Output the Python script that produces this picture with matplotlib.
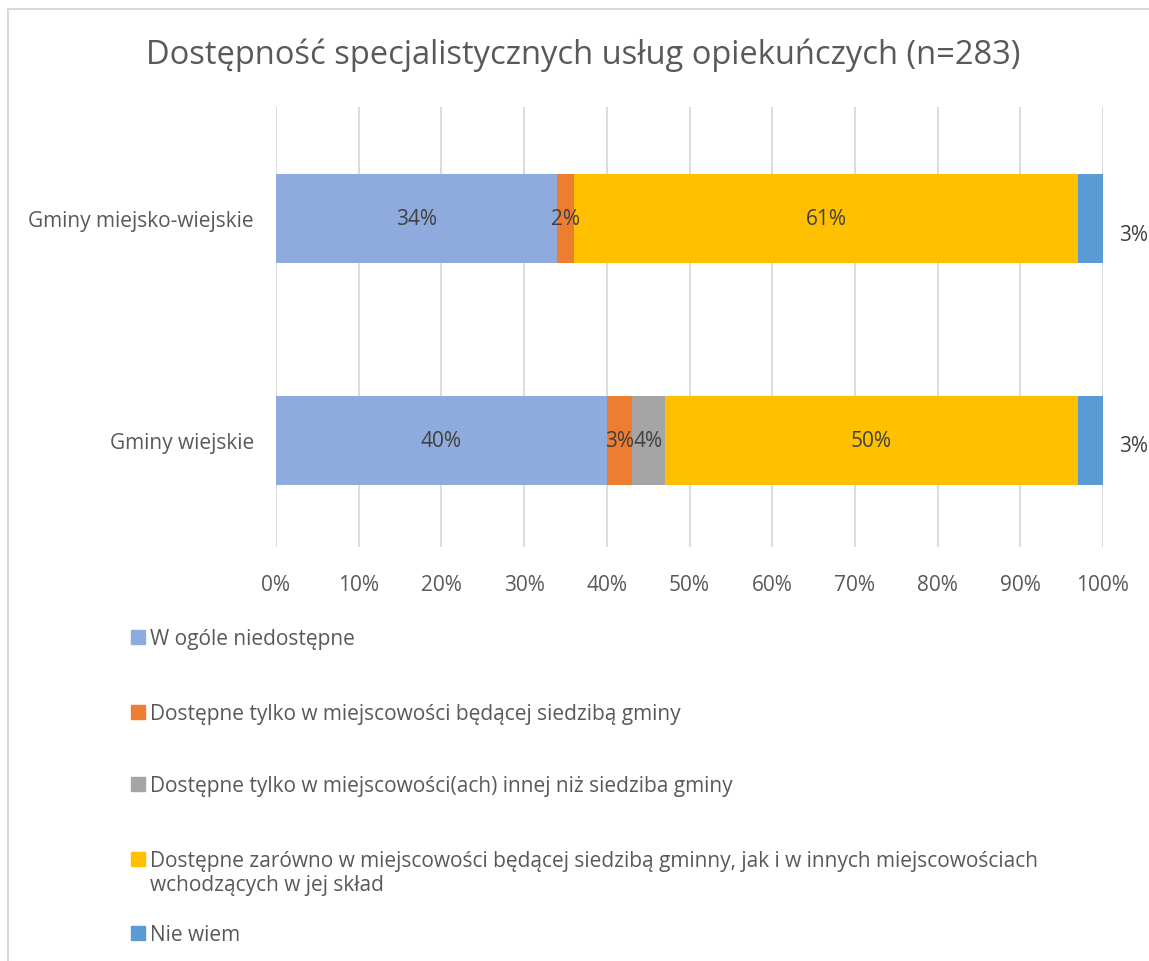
import matplotlib.pyplot as plt
from matplotlib.patches import Rectangle
from matplotlib.lines import Line2D
from matplotlib.ticker import FuncFormatter

plt.rcParams['font.family'] = ['Open Sans', 'DejaVu Sans']

categories = ['Gminy wiejskie', 'Gminy miejsko-wiejskie']
series_names = ['W ogóle niedostępne',
                'Dostępne tylko w miejscowości będącej siedzibą gminy',
                'Dostępne tylko w miejscowości(ach) innej niż siedziba gminy',
                'Dostępne zarówno w miejscowości będącej siedzibą gminny, jak i w innych miejscowościach\nwchodzących w jej skład',
                'Nie wiem']
niedostepne = [40, 34]
siedziba = [3, 2]
inne = [4, 0]
zarowno = [50, 61]
nie_wiem = [3, 3]
series = [niedostepne, siedziba, inne, zarowno, nie_wiem]
colors = ['#8FAADC', '#ED7D31', '#A5A5A5', '#FFC000', '#5B9BD5']

txt = '#595959'
fs = 15
W, H = 1149, 962
fig = plt.figure(figsize=(W / 100, H / 100), dpi=100)
ax = fig.add_axes([276 / W, 1 - 548 / H, 827 / W, 440 / H])

left = [0, 0]
for k, (vals, c) in enumerate(zip(series, colors)):
    ax.barh(range(len(categories)), vals, left=left, height=0.4,
            color=c, zorder=3)
    for i, v in enumerate(vals):
        if v == 0:
            continue
        if k == len(series) - 1:
            # "Nie wiem" labels sit outside, right of the bar
            ax.annotate(f'{v}%', xy=(left[i] + v, i), xytext=(11.5, [-4, -12][i]),
                        textcoords='offset points', ha='left', va='center',
                        fontsize=fs, color='#404040', annotation_clip=False)
        else:
            ax.text(left[i] + v / 2, i, f'{v}%', ha='center', va='center',
                    fontsize=fs, color='#404040', zorder=4)
    left = [l + v for l, v in zip(left, vals)]

ax.set_xlim(0, 100)
ax.set_ylim(-0.48, 1.5)
ax.set_xticks(range(0, 101, 10))
ax.xaxis.set_major_formatter(FuncFormatter(lambda x, p: f'{x:.0f}%'))
ax.set_yticks(range(len(categories)), categories)
ax.tick_params(length=0, labelsize=fs, colors=txt)
ax.tick_params(axis='x', pad=19.5)
ax.tick_params(axis='y', pad=16)
ax.grid(axis='x', color='#D9D9D9', lw=1.3, zorder=0)
for s in ax.spines.values():
    s.set_visible(False)

fig.text(583 / W, 1 - 55 / H, 'Dostępność specjalistycznych usług opiekuńczych (n=283)',
         ha='center', va='center', fontsize=23.5, color=txt)

# legend drawn by hand (Excel-like layout)
rows = [638, 713, 785, 860, 934]
for name, c, y in zip(series_names, colors, rows):
    fig.add_artist(Rectangle((131 / W, 1 - (y + 7) / H), 14 / W, 14 / H,
                             transform=fig.transFigure, color=c))
    fig.text(150 / W, 1 - (y - 9) / H, name, ha='left', va='top',
             fontsize=fs, color=txt, linespacing=1.2)

# chart border (partly cropped)
fig.add_artist(Line2D([8 / W, 8 / W], [0, 1 - 10 / H], transform=fig.transFigure,
                      color='#D9D9D9', lw=1.5))
fig.add_artist(Line2D([8 / W, 1], [1 - 10 / H, 1 - 10 / H], transform=fig.transFigure,
                      color='#D9D9D9', lw=1.5))

fig.savefig('out.png', dpi=100)
